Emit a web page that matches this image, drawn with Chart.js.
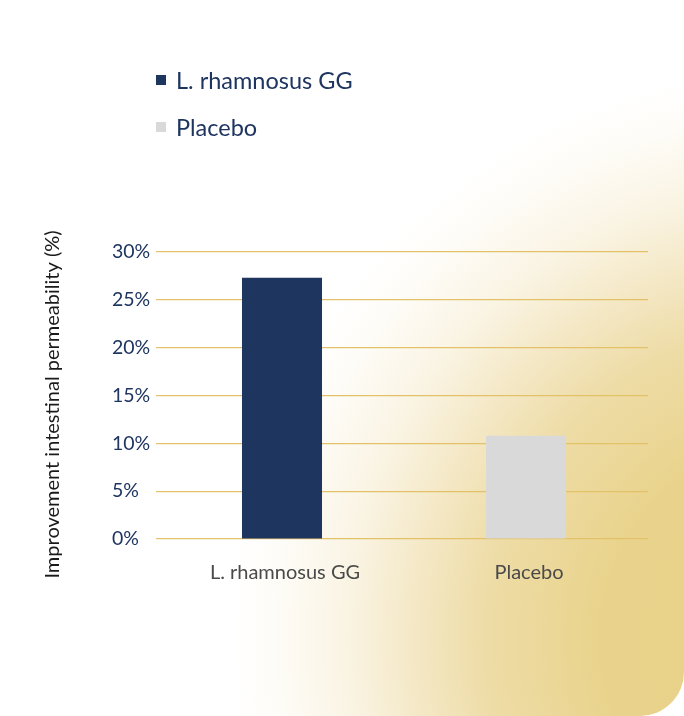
<!DOCTYPE html>
<html>
<head>
<meta charset="utf-8">
<script src="https://cdn.jsdelivr.net/npm/chart.js@4.4.1/dist/chart.umd.min.js"></script>
<style>
  html, body { margin: 0; padding: 0; background: #ffffff; }
  #card {
    position: absolute; left: 0; top: 0; width: 684px; height: 716px;
    border-radius: 0 40px 44px 0; overflow: hidden;
    background: radial-gradient(circle 570px at 800px 640px,
      #e8d187 0%, #e9d38c 35%, #eedca6 55%, #f4e8c6 68%, #faf4e4 80%, #fefcf7 92%, #ffffff 100%);
  }
  #chartWrap { position: absolute; left: 0; top: 0; width: 684px; height: 716px; }
  #legend { position: absolute; left: 156px; top: 64px; font-family: Lato, sans-serif; }
  .li { display: flex; align-items: center; height: 32px; margin-bottom: 15px; color: #1e3560; font-size: 23.5px; }
  .sw { width: 10px; height: 10px; margin-right: 10px; }
</style>
</head>
<body>
<div id="card">
  <div id="chartWrap"><canvas id="c" width="684" height="716"></canvas></div>
  <div id="legend"></div>
</div>
<script>
const categories = ['L. rhamnosus GG', 'Placebo'];
const values = [27.3, 10.8];
const barColors = ['#1e3560', '#d9d9d9'];
const yTicks = [0, 5, 10, 15, 20, 25, 30];
const yTitle = 'Improvement intestinal permeability (%)';

const legend = document.getElementById('legend');
categories.forEach((c, i) => {
  const row = document.createElement('div');
  row.className = 'li';
  const sw = document.createElement('span');
  sw.className = 'sw';
  sw.style.background = barColors[i];
  const t = document.createElement('span');
  t.textContent = c;
  row.appendChild(sw); row.appendChild(t);
  legend.appendChild(row);
});

const yTitlePlugin = {
  id: 'yTitle',
  afterDraw(chart) {
    const ctx = chart.ctx;
    const area = chart.chartArea;
    ctx.save();
    ctx.translate(53, (area.top + area.bottom) / 2 + 9);
    ctx.rotate(-Math.PI / 2);
    ctx.font = '20px Lato';
    ctx.fillStyle = '#1a1a1a';
    ctx.textAlign = 'center';
    ctx.textBaseline = 'middle';
    ctx.fillText(yTitle, 0, 0);
    ctx.restore();
  }
};

new Chart(document.getElementById('c'), {
  type: 'bar',
  data: {
    labels: categories,
    datasets: [{
      data: values,
      backgroundColor: barColors,
      borderWidth: 0,
      barPercentage: 0.328,
      categoryPercentage: 1.0
    }]
  },
  plugins: [yTitlePlugin],
  options: {
    responsive: false,
    animation: false,
    devicePixelRatio: 1,
    layout: { padding: { left: 112, right: 36, top: 252, bottom: 117 } },
    plugins: { legend: { display: false }, tooltip: { enabled: false } },
    scales: {
      x: {
        grid: { display: false, drawTicks: false },
        border: { display: false },
        ticks: { color: '#4a4a4a', font: { family: 'Lato', size: 20 }, padding: 22, labelOffset: 3 },
        afterFit: s => { s.height = 60; }
      },
      y: {
        min: 0, max: 30,
        afterBuildTicks: s => { s.ticks = yTicks.map(v => ({ value: v })); },
        grid: { color: '#e2c169', lineWidth: 1.2, drawTicks: true, tickLength: 4, tickColor: '#e2c169' },
        border: { display: false },
        ticks: {
          color: '#1e3560', font: { family: 'Lato', size: 19.5 }, padding: 6, crossAlign: 'far',
          callback: v => v + '%'
        },
        afterFit: s => { s.width = 48; }
      }
    }
  }
});
</script>
</body>
</html>
